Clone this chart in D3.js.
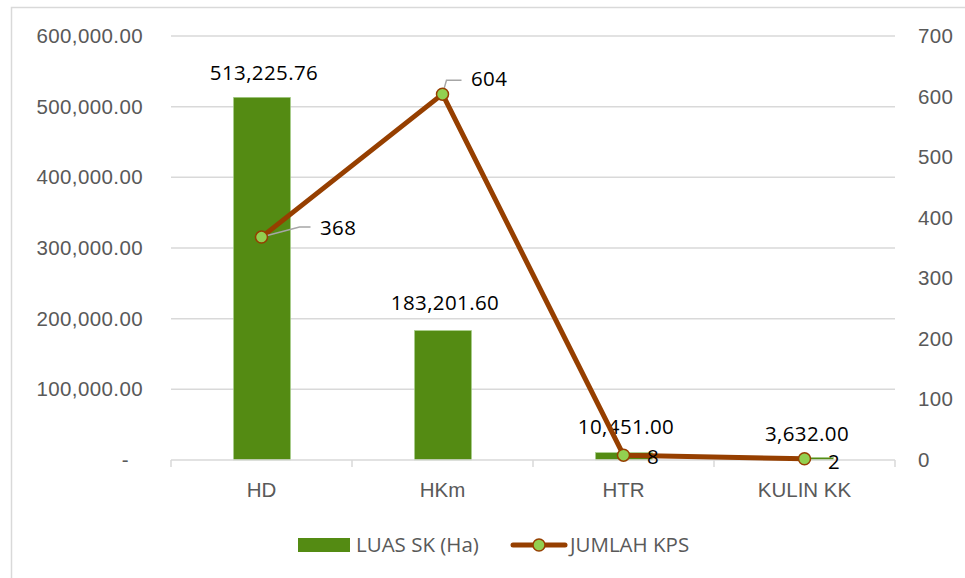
<!DOCTYPE html>
<html>
<head>
<meta charset="utf-8">
<script src="https://cdn.jsdelivr.net/npm/d3@7"></script>
<style>
  body { margin: 0; background: #fff; }
  svg { display: block; font-family: "Open Sans", "Noto Sans", sans-serif; }
</style>
</head>
<body>
<div id="chart-container"></div>
<script>
//Data
const categories = ["HD", "HKm", "HTR", "KULIN KK"];
const luasSK = [513225.76, 183201.60, 10451.00, 3632.00];
const jumlahKPS = [368, 604, 8, 2];
const leftTicks = [0, 100000, 200000, 300000, 400000, 500000, 600000];
const rightTicks = [0, 100, 200, 300, 400, 500, 600, 700];
const seriesNames = ["LUAS SK (Ha)", "JUMLAH KPS"];

const W = 965, H = 578;
const margin = { top: 36, right: 70, bottom: 118, left: 171 };
const width = 895 - margin.left;
const height = 460 - margin.top;

const barColor = "#548B13";
const lineColor = "#963F00";
const markerFill = "#92D050";
const textGray = "#595959";
const fs = "20.5px";
const numSpacing = "0.4px";

const svg = d3.select("#chart-container")
  .append("svg")
    .attr("width", W)
    .attr("height", H);

//Chart border
svg.append("rect")
  .attr("x", 11.5).attr("y", 7.5)
  .attr("width", 980).attr("height", 600)
  .attr("fill", "none")
  .attr("stroke", "#d9d9d9")
  .attr("stroke-width", 1.5);

const g = svg.append("g")
  .attr("transform", `translate(${margin.left},${margin.top})`);

//Scales
const x = d3.scaleBand().domain(categories).range([0, width]).paddingInner(0).paddingOuter(0);
const y = d3.scaleLinear().domain([0, 600000]).range([height, 0]);
const y2 = d3.scaleLinear().domain([0, 700]).range([height, 0]);

//Gridlines
g.selectAll(".grid")
  .data(leftTicks.slice(1))
  .join("line")
  .attr("x1", 0).attr("x2", width)
  .attr("y1", d => y(d)).attr("y2", d => y(d))
  .attr("stroke", "#d9d9d9")
  .attr("stroke-width", 1.5);

//Left axis
g.append("g")
  .call(d3.axisLeft(y)
    .tickValues(leftTicks)
    .tickFormat(d => d === 0 ? "-" : d3.format(",.2f")(d))
    .tickSize(0)
    .tickPadding(28))
  .call(ax => ax.select(".domain").remove())
  .selectAll("text")
  .attr("fill", textGray)
  .style("font-size", fs)
  .style("letter-spacing", numSpacing)
  .attr("dx", (d) => d === 0 ? "-14px" : 0);

//Right axis
g.append("g")
  .attr("transform", `translate(${width},0)`)
  .call(d3.axisRight(y2)
    .tickValues(rightTicks)
    .tickSize(0)
    .tickPadding(23))
  .call(ax => ax.select(".domain").remove())
  .selectAll("text")
  .attr("fill", textGray)
  .style("font-size", fs)
  .style("letter-spacing", numSpacing);

//Bars
const barW = 57;
g.selectAll(".bar")
  .data(luasSK)
  .join("rect")
  .attr("x", (d, i) => x(categories[i]) + x.bandwidth() / 2 - barW / 2 + 0.5)
  .attr("y", d => y(d))
  .attr("width", barW)
  .attr("height", d => height - y(d))
  .attr("fill", barColor)
  .attr("stroke", "#a9d08e")
  .attr("stroke-width", 0.6);

//X axis
const xAxis = g.append("g")
  .attr("transform", `translate(0,${height})`)
  .call(d3.axisBottom(x).tickSize(0).tickPadding(22));
xAxis.select(".domain").attr("stroke", "#d9d9d9").attr("stroke-width", 1.5)
  .attr("d", `M0,0H${width}`);
xAxis.selectAll("text").attr("fill", textGray).style("font-size", fs);
xAxis.selectAll(".sep")
  .data(d3.range(categories.length + 1))
  .join("line")
  .attr("x1", i => i * x.bandwidth()).attr("x2", i => i * x.bandwidth())
  .attr("y1", 0).attr("y2", 7)
  .attr("stroke", "#d9d9d9").attr("stroke-width", 1.5);

//Bar labels
g.selectAll(".barLabel")
  .data(luasSK)
  .join("text")
  .attr("x", (d, i) => x(categories[i]) + x.bandwidth() / 2 + 2.5)
  .attr("y", (d, i) => y(d) - [24, 28, 26, 24][i])
  .attr("dy", "0.35em")
  .attr("text-anchor", "middle")
  .style("font-size", fs)
  .style("letter-spacing", numSpacing)
  .attr("fill", "#000")
  .text(d => d3.format(",.2f")(d));

//Line
const cx = i => x(categories[i]) + x.bandwidth() / 2;
const line = d3.line()
  .x((d, i) => cx(i))
  .y(d => y2(d));

g.append("path")
  .datum(jumlahKPS)
  .attr("d", line)
  .attr("fill", "none")
  .attr("stroke", lineColor)
  .attr("stroke-width", 5)
  .attr("stroke-linejoin", "round");

//Leader lines for line labels
const leaders = [
  [[0, 0], [38, -10], [49, -10]],
  [[0, 0], [4, -14], [19, -14]],
  null,
  null
];
g.selectAll(".leader")
  .data(jumlahKPS)
  .join("path")
  .attr("d", (d, i) => leaders[i] ? d3.line()(leaders[i].map(p => [cx(i) + p[0], y2(d) + p[1]])) : null)
  .attr("fill", "none")
  .attr("stroke", "#a6a6a6")
  .attr("stroke-width", 1.5);

//Markers
g.selectAll(".marker")
  .data(jumlahKPS)
  .join("circle")
  .attr("cx", (d, i) => cx(i))
  .attr("cy", d => y2(d))
  .attr("r", 6)
  .attr("fill", markerFill)
  .attr("stroke", lineColor)
  .attr("stroke-width", 1.5);

//Line labels
const lblOff = [[58.5, -9], [28.5, -15], [23.5, 2], [23.5, 3]];
g.selectAll(".lineLabel")
  .data(jumlahKPS)
  .join("text")
  .attr("x", (d, i) => cx(i) + lblOff[i][0])
  .attr("y", (d, i) => y2(d) + lblOff[i][1])
  .attr("dy", "0.35em")
  .style("font-size", fs)
  .style("letter-spacing", numSpacing)
  .attr("fill", "#000")
  .text(d => d);

//Legend
const legend = svg.append("g").attr("transform", "translate(0,545)");
legend.append("rect")
  .attr("x", 298).attr("y", -7)
  .attr("width", 52).attr("height", 14)
  .attr("fill", barColor);
legend.append("text")
  .attr("x", 356).attr("y", 0).attr("dy", "0.35em")
  .style("font-size", fs).attr("fill", textGray)
  .text(seriesNames[0]);
legend.append("line")
  .attr("x1", 513).attr("x2", 565)
  .attr("y1", 0).attr("y2", 0)
  .attr("stroke", lineColor).attr("stroke-width", 5)
  .attr("stroke-linecap", "round");
legend.append("circle")
  .attr("cx", 539).attr("cy", 0).attr("r", 6)
  .attr("fill", markerFill).attr("stroke", lineColor).attr("stroke-width", 1.5);
legend.append("text")
  .attr("x", 570).attr("y", 0).attr("dy", "0.35em")
  .style("font-size", fs).attr("fill", textGray)
  .text(seriesNames[1]);
</script>
</body>
</html>
